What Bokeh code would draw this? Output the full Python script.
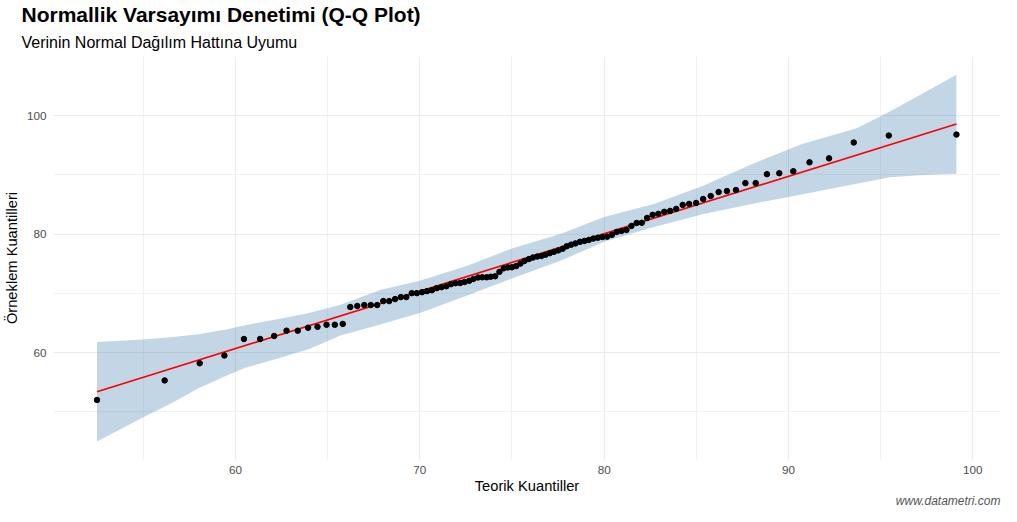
from bokeh.plotting import figure
from bokeh.models import Title, FixedTicker, Range1d
from bokeh.embed import file_html
from bokeh.resources import INLINE

# --- data ---
theoretical_q = [52.49, 56.16, 58.06, 59.40, 60.46, 61.34, 62.10, 62.77, 63.38, 63.94,
                 64.45, 64.94, 65.39, 65.82, 66.23, 66.61, 66.99, 67.34, 67.69, 68.02,
                 68.34, 68.66, 68.97, 69.27, 69.56, 69.84, 70.12, 70.39, 70.66, 70.92,
                 71.18, 71.44, 71.69, 71.94, 72.19, 72.43, 72.68, 72.91, 73.16, 73.39,
                 73.63, 73.85, 74.09, 74.32, 74.55, 74.78, 75.00, 75.23, 75.46, 75.68,
                 75.92, 76.14, 76.37, 76.60, 76.82, 77.05, 77.28, 77.51, 77.75, 77.97,
                 78.21, 78.44, 78.69, 78.93, 79.17, 79.41, 79.66, 79.91, 80.16, 80.42,
                 80.68, 80.94, 81.21, 81.48, 81.76, 82.04, 82.33, 82.63, 82.94, 83.26,
                 83.58, 83.91, 84.26, 84.61, 84.99, 85.37, 85.78, 86.21, 86.66, 87.15,
                 87.66, 88.22, 88.83, 89.50, 90.26, 91.14, 92.20, 93.54, 95.44, 99.11]

sample_q = [52.0, 55.3, 58.2, 59.5, 62.3, 62.3, 62.8, 63.7, 63.7, 64.2,
            64.35, 64.7, 64.7, 64.85, 67.7, 67.87, 68.03, 68.03, 68.03, 68.7,
            68.7, 69.04, 69.37, 69.37, 70.04, 70.04, 70.2, 70.38, 70.54, 70.88,
            71.05, 71.21, 71.55, 71.72, 71.75, 71.93, 72.13, 72.44, 72.69, 72.72,
            72.72, 72.82, 72.89, 73.64, 74.23, 74.39, 74.41, 74.61, 75.03, 75.48,
            75.8, 76.05, 76.23, 76.32, 76.52, 76.79, 77.02, 77.26, 77.54, 77.96,
            78.23, 78.44, 78.71, 78.86, 79.03, 79.25, 79.4, 79.51, 79.58, 79.88,
            80.38, 80.55, 80.72, 81.39, 81.89, 81.92, 82.73, 83.26, 83.43, 83.77,
            83.93, 84.27, 84.94, 85.1, 85.27, 85.94, 86.44, 87.11, 87.28, 87.45,
            88.62, 88.62, 90.13, 90.29, 90.63, 92.13, 92.8, 95.48, 96.65, 96.82]

line_x = [52.49, 99.11]
line_y = [53.4, 98.6]

band_x = [52.49, 55.0, 56.5, 58.0, 59.5, 60.5, 62.2, 64.0, 65.7, 67.9, 70.0, 72.5,
          75.0, 77.7, 80.0, 82.7, 85.4, 88.0, 90.7, 93.7, 95.5, 97.3, 99.11]
band_upper = [61.8, 62.2, 62.6, 63.1, 63.9, 64.6, 65.6, 66.7, 68.1, 70.6, 72.15, 74.6,
              77.57, 80.1, 82.9, 85.1, 88.2, 91.8, 95.2, 97.9, 100.7, 103.8, 106.9]
band_lower = [45.0, 49.1, 51.4, 54.0, 56.1, 57.4, 58.9, 60.6, 62.9, 64.8, 66.7, 69.57,
              72.5, 75.6, 78.7, 81.2, 83.4, 85.1, 86.7, 88.5, 89.6, 90.0, 90.2]

x_ticks = [60, 70, 80, 90, 100]
x_minor = [55, 65, 75, 85, 95]
y_ticks = [60, 80, 100]
y_minor = [50, 70, 90, 110]

FONT = "Liberation Sans"

p = figure(width=1001, height=506, output_backend="svg", toolbar_location=None,
           x_range=Range1d(50.13, 101.5), y_range=Range1d(41.95, 110.0),
           title="Normallik Varsayımı Denetimi (Q-Q Plot)",
           min_border_left=44, min_border_right=1, min_border_top=0, min_border_bottom=0)

p.title.text_font = FONT
p.title.text_font_size = "21px"
p.title.text_font_style = "bold"
p.title.text_color = "#000000"
p.title.align = "left"
p.title.offset = -32
p.title.standoff = 0
p.title.padding = 0

sub = Title(text="Verinin Normal Dağılım Hattına Uyumu", text_font=FONT,
            text_font_size="16px", text_font_style="normal", text_color="#000000",
            align="left", offset=-32, standoff=12, padding=0)
p.add_layout(sub, "above")

cap = Title(text="www.datametri.com", text_font=FONT, text_font_size="12px",
            text_font_style="italic", text_color="#555555", align="right",
            standoff=-6, padding=0, vertical_align="top")
p.add_layout(cap, "below")

p.outline_line_color = None
p.background_fill_color = "white"
p.border_fill_color = "white"

p.varea(x=band_x, y1=band_lower, y2=band_upper, fill_color="#4682B4", fill_alpha=0.33)
p.line(line_x, line_y, line_color="#FF0000", line_width=1.7)
p.scatter(theoretical_q, sample_q, size=5.5, fill_color="black", line_color="black")

p.xaxis.ticker = FixedTicker(ticks=x_ticks, minor_ticks=x_minor)
p.yaxis.ticker = FixedTicker(ticks=y_ticks, minor_ticks=y_minor)

for ax in (p.xaxis, p.yaxis):
    ax.axis_line_color = None
    ax.major_tick_line_color = None
    ax.minor_tick_line_color = None
    ax.major_tick_in = 0
    ax.major_tick_out = 0
    ax.minor_tick_in = 0
    ax.minor_tick_out = 0
    ax.major_label_text_font = FONT
    ax.major_label_text_font_size = "11.7px"
    ax.major_label_text_color = "#4D4D4D"
    ax.axis_label_text_font = FONT
    ax.axis_label_text_font_size = "14.7px"
    ax.axis_label_text_font_style = "normal"
    ax.axis_label_text_color = "#000000"

p.xaxis.axis_label = "Teorik Kuantiller"
p.yaxis.axis_label = "Örneklem Kuantilleri"
p.xaxis.major_label_standoff = 6
p.xaxis.axis_label_standoff = 1
p.yaxis.major_label_standoff = 7
p.yaxis.axis_label_standoff = 4

p.xgrid.grid_line_color = "#EBEBEB"
p.ygrid.grid_line_color = "#EBEBEB"
p.xgrid.grid_line_width = 1.1
p.ygrid.grid_line_width = 1.1
p.xgrid.minor_grid_line_color = "#EFEFEF"
p.ygrid.minor_grid_line_color = "#EFEFEF"
p.xgrid.minor_grid_line_width = 0.9
p.ygrid.minor_grid_line_width = 0.9

open("out.html", "w").write(file_html(p, INLINE))
